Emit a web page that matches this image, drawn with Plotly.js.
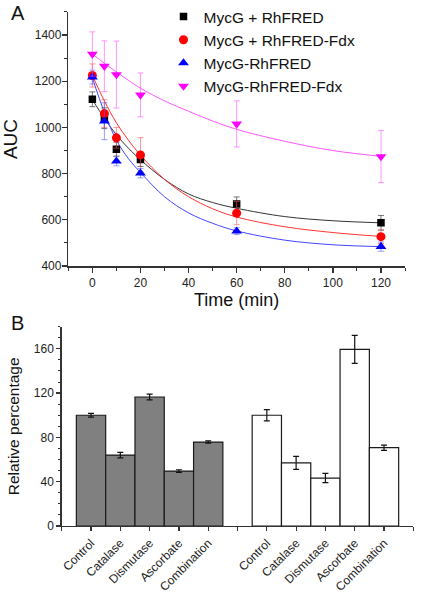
<!DOCTYPE html>
<html>
<head>
<meta charset="utf-8">
<script src="https://cdn.plot.ly/plotly-3.0.1.min.js"></script>
<style>html,body{margin:0;padding:0;background:#fff;}#chart{width:428px;height:599px;}</style>
</head>
<body>
<div id="chart"></div>
<script>
// ---- Panel A data ----
const timePoints = [0, 5, 10, 20, 60, 120];
const seriesNames = ["MycG + RhFRED", "MycG + RhFRED-Fdx", "MycG-RhFRED", "MycG-RhFRED-Fdx"];
const aucBlack = [1122, 1040, 906, 861, 669, 587];
const aucRed = [1225, 1060, 955, 881, 629, 527];
const aucBlue = [1218, 1027, 854, 802, 551, 484];
const aucMagenta = [1318, 1265, 1229, 1141, 1015, 874];
const errBlack = [32, 45, 30, 30, 30, 32];
const errRed = [50, 60, 45, 75, 50, 30];
const errBlue = [30, 80, 20, 20, 15, 20];
const errMagenta = [96, 110, 145, 95, 100, 113];
// fitted curves
const fitTime = [0, 5, 10, 15, 20, 30, 40, 50, 60, 80, 100, 120];
const fitBlack = [1120, 1040, 968, 910, 860, 775, 712, 675, 650, 614, 596, 587];
const fitRed = [1225, 1115, 1020, 945, 880, 775, 700, 648, 612, 570, 545, 528];
const fitBlue = [1215, 1065, 945, 865, 805, 700, 630, 585, 552, 512, 492, 484];
const fitMagenta = [1318, 1278, 1240, 1204, 1170, 1115, 1070, 1028, 992, 940, 900, 875];

// ---- Panel B data ----
const categories = ["Control", "Catalase", "Dismutase", "Ascorbate", "Combination"];
const grayValues = [100, 64, 116.5, 49.6, 75.8];
const grayErrors = [1.7, 2.4, 2.6, 1.2, 1.0];
const whiteValues = [100, 57, 43.3, 159.5, 70.7];
const whiteErrors = [5.1, 5.9, 4.2, 12.6, 2.4];
const grayPositions = [0, 1, 2, 3, 4];
const whitePositions = [6, 7, 8, 9, 10];

const FONT = "Liberation Sans, Arial, sans-serif";
const AX = "#333";

const colors = ["#000000", "#ff0000", "#0000ff", "#ff00ff"];
const lineColors = ["#333333", "#ff3333", "#4444ff", "#ff55ff"];
const errColors = ["rgba(60,60,60,0.7)", "rgba(255,80,80,0.6)", "rgba(90,90,255,0.6)", "rgba(255,80,255,0.6)"];
const symbols = ["square", "circle", "triangle-up", "triangle-down"];
const sizes = [7.5, 9, 9.5, 9.5];
const aucs = [aucBlack, aucRed, aucBlue, aucMagenta];
const errs = [errBlack, errRed, errBlue, errMagenta];
const fits = [fitBlack, fitRed, fitBlue, fitMagenta];

const traces = [];
for (let i = 0; i < 4; i++) {
  traces.push({
    x: fitTime, y: fits[i], type: "scatter", mode: "lines",
    line: {color: lineColors[i], width: 1, shape: "spline"},
    showlegend: false, hoverinfo: "skip", xaxis: "x", yaxis: "y"
  });
}
for (let i = 0; i < 4; i++) {
  traces.push({
    x: timePoints, y: aucs[i], type: "scatter", mode: "markers", name: seriesNames[i],
    marker: {color: colors[i], symbol: symbols[i], size: sizes[i]},
    error_y: {type: "data", array: errs[i], visible: true, color: errColors[i], thickness: 1, width: 3},
    xaxis: "x", yaxis: "y"
  });
}
traces.push({
  x: grayPositions, y: grayValues, type: "bar", width: 1,
  marker: {color: "#808080", line: {color: "#1a1a1a", width: 1.2}},
  error_y: {type: "data", array: grayErrors, visible: true, color: "#111", thickness: 1.2, width: 3},
  showlegend: false, xaxis: "x2", yaxis: "y2"
});
traces.push({
  x: whitePositions, y: whiteValues, type: "bar", width: 1,
  marker: {color: "#ffffff", line: {color: "#1a1a1a", width: 1.2}},
  error_y: {type: "data", array: whiteErrors, visible: true, color: "#111", thickness: 1.2, width: 3},
  showlegend: false, xaxis: "x2", yaxis: "y2"
});

const tickValsB = [-1, 0, 1, 2, 3, 4, 5, 6, 7, 8, 9, 10, 11];
const tickTextB = [""].concat(categories, [""], categories, [""]);

const layout = {
  width: 428, height: 599,
  margin: {l: 0, r: 0, t: 0, b: 0},
  paper_bgcolor: "#fff", plot_bgcolor: "rgba(0,0,0,0)",
  font: {family: FONT, color: "#222", size: 12},
  showlegend: true,
  legend: {x: 0.382, y: 1.0, xanchor: "left", yanchor: "top", bgcolor: "rgba(0,0,0,0)",
           font: {size: 15.5, color: "#111"}, tracegroupgap: 0},
  bargap: 0,
  xaxis: {
    domain: [0.1596, 0.9463], anchor: "y", range: [-10, 130], tickvals: [0, 20, 40, 60, 80, 100, 120],
    showgrid: false, zeroline: false, showline: true, linecolor: AX, linewidth: 1.5,
    ticks: "outside", ticklen: 5, tickwidth: 1.3, tickcolor: AX,
    minor: {dtick: 10, tick0: 0, ticks: "outside", ticklen: 3, tickcolor: AX, tickwidth: 1},
    tickfont: {size: 12, color: "#222"},
    title: {text: "Time (min)", font: {size: 18, color: "#111"}, standoff: 4}
  },
  yaxis: {
    domain: [0.5559, 0.98], anchor: "x", range: [400, 1500], tickvals: [400, 600, 800, 1000, 1200, 1400],
    showgrid: false, zeroline: false, showline: true, linecolor: AX, linewidth: 1.5,
    ticks: "outside", ticklen: 5, tickwidth: 1.3, tickcolor: AX, ticklabelstandoff: -2,
    minor: {dtick: 100, tick0: 400, ticks: "outside", ticklen: 3, tickcolor: AX, tickwidth: 1},
    tickfont: {size: 12, color: "#222"},
    title: {text: "AUC", font: {size: 19, color: "#111"}, standoff: 12}
  },
  xaxis2: {
    domain: [0.1442, 0.9657], anchor: "y2", range: [-1, 11], tickvals: tickValsB, ticktext: tickTextB,
    tickangle: -45, showgrid: false, zeroline: false, showline: true, linecolor: AX, linewidth: 1.5,
    ticks: "outside", ticklen: 4, tickwidth: 1.2, tickcolor: AX,
    tickfont: {size: 12, color: "#222"}
  },
  yaxis2: {
    domain: [0.1219, 0.4546], anchor: "x2", range: [0, 180], tickvals: [0, 40, 80, 120, 160],
    showgrid: false, zeroline: false, showline: true, linecolor: AX, linewidth: 1.5,
    ticks: "outside", ticklen: 4, tickwidth: 1.3, tickcolor: AX,
    minor: {dtick: 10, tick0: 0, ticks: "outside", ticklen: 2.5, tickcolor: AX, tickwidth: 1},
    tickfont: {size: 12, color: "#222"},
    title: {text: "Relative percentage", font: {size: 15.5, color: "#111"}, standoff: 10}
  },
  annotations: [
    {text: "A", x: 0.022, y: 1.0, xref: "paper", yref: "paper", xanchor: "left", yanchor: "top",
     showarrow: false, font: {size: 20, color: "#111"}},
    {text: "B", x: 0.022, y: 0.483, xref: "paper", yref: "paper", xanchor: "left", yanchor: "top",
     showarrow: false, font: {size: 20, color: "#111"}}
  ]
};

Plotly.newPlot("chart", traces, layout, {staticPlot: true, displayModeBar: false});
</script>
</body>
</html>
